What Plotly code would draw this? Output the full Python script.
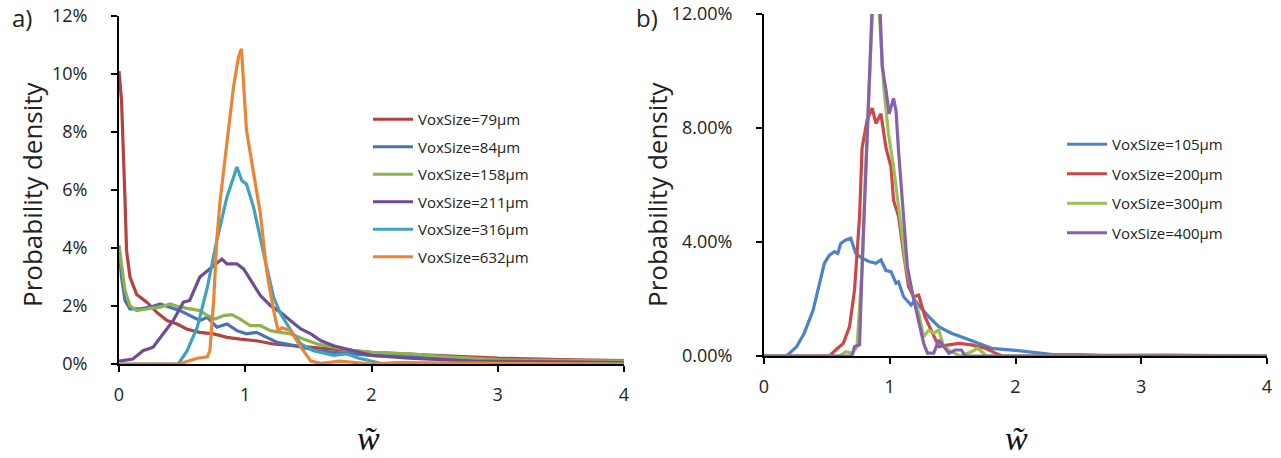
import plotly.graph_objects as go

# ---------------- Panel a data (w, probability density in %) ----------------
a_names = ["VoxSize=79µm", "VoxSize=84µm", "VoxSize=158µm",
           "VoxSize=211µm", "VoxSize=316µm", "VoxSize=632µm"]

a79_w = [0, 0.02, 0.048, 0.06, 0.087, 0.14, 0.22, 0.30, 0.38, 0.46, 0.54, 0.64, 0.75,
         0.855, 0.96, 1.09, 1.22, 1.38, 1.54, 1.7, 2.0, 2.5, 3.0, 3.5, 4.0]
a79_p = [10.1, 9.1, 5.6, 3.9, 3.0, 2.4, 2.13, 1.78, 1.5, 1.38, 1.2, 1.09, 1.04,
         0.92, 0.86, 0.8, 0.69, 0.63, 0.58, 0.52, 0.4, 0.3, 0.2, 0.15, 0.12]

a84_w = [0, 0.02, 0.048, 0.087, 0.167, 0.246, 0.325, 0.405, 0.484, 0.563, 0.64, 0.7,
         0.775, 0.855, 0.934, 1.01, 1.09, 1.17, 1.25, 1.33, 1.44, 1.57, 1.7, 1.86,
         2.0, 2.5, 3.0, 4.0]
a84_p = [4.0, 3.0, 2.19, 1.9, 1.9, 1.96, 2.07, 1.96, 1.84, 1.67, 1.5, 1.61,
         1.27, 1.38, 1.15, 1.04, 1.09, 0.92, 0.75, 0.69, 0.58, 0.46, 0.4, 0.35,
         0.3, 0.2, 0.12, 0.08]

a158_w = [0, 0.02, 0.048, 0.087, 0.14, 0.22, 0.325, 0.405, 0.484, 0.563, 0.64, 0.7,
          0.76, 0.83, 0.894, 0.96, 1.04, 1.12, 1.2, 1.28, 1.357, 1.46, 1.57, 1.7,
          1.86, 2.0, 2.3, 2.6, 3.0, 4.0]
a158_p = [4.1, 3.45, 2.53, 2.01, 1.84, 1.9, 1.96, 2.07, 1.96, 1.9, 1.84, 1.67,
          1.55, 1.67, 1.7, 1.55, 1.32, 1.32, 1.15, 1.09, 1.04, 0.86, 0.69, 0.58,
          0.46, 0.4, 0.35, 0.25, 0.15, 0.1]

a211_w = [0, 0.11, 0.19, 0.27, 0.35, 0.43, 0.51, 0.56, 0.64, 0.72, 0.815, 0.855,
          0.934, 0.987, 1.066, 1.12, 1.2, 1.28, 1.357, 1.44, 1.52, 1.6, 1.7, 1.83,
          2.0, 2.3, 2.8, 3.5, 4.0]
a211_p = [0.1, 0.17, 0.46, 0.58, 1.04, 1.5, 2.13, 2.19, 3.0, 3.28, 3.62, 3.45,
          3.45, 3.28, 2.76, 2.36, 2.01, 1.78, 1.5, 1.21, 1.04, 0.8, 0.63, 0.48,
          0.3, 0.2, 0.1, 0.07, 0.05]

a316_w = [0, 0.47, 0.54, 0.62, 0.70, 0.775, 0.855, 0.907, 0.934, 0.973, 1.01, 1.066,
          1.12, 1.17, 1.225, 1.28, 1.33, 1.38, 1.44, 1.54, 1.7, 1.8, 1.9, 2.0, 2.1, 4.0]
a316_p = [0, 0, 0.46, 1.27, 2.65, 4.26, 5.75, 6.44, 6.79, 6.33, 6.2, 5.4,
          4.26, 3.34, 2.3, 1.73, 1.38, 1.04, 0.69, 0.46, 0.3, 0.35, 0.2, 0.1, 0, 0]

a632_w = [0, 0.48, 0.55, 0.62, 0.70, 0.72, 0.75, 0.775, 0.80, 0.855, 0.907, 0.947,
          0.97, 1.01, 1.066, 1.12, 1.17, 1.225, 1.26, 1.29, 1.36, 1.44, 1.52, 1.6,
          1.75, 1.85, 2.0, 2.2, 4.0]
a632_p = [0, 0, 0.1, 0.2, 0.25, 0.46, 2.2, 4.3, 5.6, 7.7, 9.55, 10.6,
          10.87, 8.05, 6.56, 5.18, 3.2, 1.84, 1.15, 1.25, 1.15, 0.58, 0.1, 0.02,
          0.1, 0.05, 0, 0.05, 0]

a_colors = ["#B5423F", "#4672B8", "#8DB24F", "#6F4D95", "#3FA3BB", "#EB8535"]

# ---------------- Panel b data ----------------
b_names = ["VoxSize=105µm", "VoxSize=200µm", "VoxSize=300µm", "VoxSize=400µm"]

b105_w = [0, 0.18, 0.26, 0.32, 0.39, 0.44, 0.48, 0.52, 0.56, 0.587, 0.61, 0.65, 0.69,
          0.73, 0.78, 0.84, 0.89, 0.93, 0.97, 1.01, 1.05, 1.07, 1.11, 1.17, 1.2,
          1.24, 1.31, 1.39, 1.49, 1.6, 1.7, 1.81, 2.0, 2.1, 2.3, 2.5, 2.7, 3.2, 4.0]
b105_p = [0, 0, 0.33, 0.8, 1.6, 2.55, 3.25, 3.54, 3.66, 3.6, 3.95, 4.07, 4.13,
          3.6, 3.43, 3.31, 3.25, 3.37, 3.0, 2.96, 2.55, 2.6, 2.08, 1.79, 1.96,
          1.73, 1.38, 1.03, 0.8, 0.62, 0.44, 0.27, 0.2, 0.15, 0.05, 0.05, 0.02, 0.03, 0]

b200_w = [0, 0.52, 0.57, 0.63, 0.68, 0.72, 0.76, 0.78, 0.82, 0.86, 0.89, 0.93, 0.97,
          1.01, 1.03, 1.07, 1.11, 1.15, 1.19, 1.23, 1.28, 1.34, 1.39, 1.47, 1.55,
          1.65, 1.76, 1.84, 1.9, 4.0]
b200_p = [0, 0, 0.21, 0.44, 1.03, 2.32, 4.9, 7.3, 8.28, 8.7, 8.16, 8.5, 7.3,
          6.64, 5.47, 4.9, 3.6, 2.43, 2.08, 2.14, 1.38, 0.8, 0.33, 0.39, 0.44,
          0.39, 0.27, 0.1, 0, 0]

b300_w = [0, 0.6, 0.65, 0.7, 0.74, 0.78, 0.81, 0.84, 0.875, 0.91, 0.955, 0.99, 1.03,
          1.07, 1.13, 1.18, 1.23, 1.27, 1.31, 1.35, 1.39, 1.43, 1.49, 1.56, 1.65,
          1.7, 1.77, 4.0]
b300_p = [0, 0, 0.15, 0.1, 0.33, 3.1, 6.64, 10.1, 13.5, 12.5, 9.3, 7.8, 6.64,
          5.24, 3.13, 2.2, 1.5, 0.68, 0.91, 0.8, 0.91, 0.33, 0.15, 0, 0.15,
          0.27, 0, 0]

b400_w = [0, 0.7, 0.72, 0.76, 0.78, 0.82, 0.85, 0.88, 0.92, 0.94, 0.97, 0.995, 1.03,
          1.05, 1.07, 1.1, 1.14, 1.18, 1.23, 1.27, 1.3, 1.35, 1.39, 1.43, 1.47,
          1.52, 1.57, 1.6, 4.0]
b400_p = [0, 0, 0.33, 0.39, 3.1, 7.8, 11.3, 14.5, 12.5, 10.15, 9.33, 8.5, 9.04,
          8.6, 7.2, 5.47, 3.13, 2.2, 1.26, 0.44, 0.1, 0.1, 0.56, 0.33, 0.1,
          0.21, 0.21, 0, 0]

b_colors = ["#4A84C6", "#CE4744", "#9BC153", "#8662AE"]

a_ticks = [0, 2, 4, 6, 8, 10, 12]
a_ticktext = ["0%", "2%", "4%", "6%", "8%", "10%", "12%"]
b_ticks = [0, 4, 8, 12]
b_ticktext = ["0.00%", "4.00%", "8.00%", "12.00%"]
x_ticks = [0, 1, 2, 3, 4]
x_ticktext = ["0", "1", "2", "3", "4"]

FONT = "Open Sans"
W, H = 1281, 458


def px(x):
    return x / W


def py(y):
    return 1 - y / H


fig = go.Figure()

a_series = [(a79_w, a79_p), (a84_w, a84_p), (a158_w, a158_p),
            (a211_w, a211_p), (a316_w, a316_p), (a632_w, a632_p)]
for i, ((wx, pv), name, col) in enumerate(zip(a_series, a_names, a_colors)):
    fig.add_trace(go.Scatter(x=wx, y=pv, mode="lines", name=name,
                             line=dict(color=col, width=3.2),
                             xaxis="x", yaxis="y", legend="legend",
                             legendgroup="a%d" % i))

b_series = [(b105_w, b105_p), (b200_w, b200_p), (b300_w, b300_p), (b400_w, b400_p)]
for i, ((wx, pv), name, col) in enumerate(zip(b_series, b_names, b_colors)):
    fig.add_trace(go.Scatter(x=wx, y=pv, mode="lines", name=name,
                             line=dict(color=col, width=3.2),
                             xaxis="x2", yaxis="y2", legend="legend2",
                             legendgroup="b%d" % i))

axis_common = dict(showgrid=False, zeroline=False, showline=True, linecolor="black",
                   linewidth=2, ticks="outside", ticklen=6, tickwidth=2,
                   tickcolor="black", automargin=False, ticklabeloverflow="allow",
                   tickfont=dict(family=FONT, size=18, color="#222"))

fig.update_layout(
    width=W, height=H,
    margin=dict(l=0, r=0, t=0, b=0, autoexpand=False),
    paper_bgcolor="white", plot_bgcolor="white",
    xaxis=dict(**axis_common, domain=[px(119), px(624)], range=[0, 4], tickmode="array",
               tickvals=x_ticks, ticktext=x_ticktext, anchor="y", ticklabelstandoff=7),
    yaxis=dict(**axis_common, domain=[py(364), py(16)], range=[0, 12], tickmode="array",
               tickvals=a_ticks, ticktext=a_ticktext, anchor="x", ticklabelstandoff=20),
    xaxis2=dict(**axis_common, domain=[px(764), px(1267)], range=[0, 4], tickmode="array",
                tickvals=x_ticks, ticktext=x_ticktext, anchor="y2", ticklabelstandoff=7),
    yaxis2=dict(**axis_common, domain=[py(356), py(14)], range=[0, 12], tickmode="array",
                tickvals=b_ticks, ticktext=b_ticktext, anchor="x2", ticklabelstandoff=20),
    legend=dict(x=px(368), y=py(103), xanchor="left", yanchor="top",
                font=dict(family=FONT, size=15, color="#222"),
                bgcolor="rgba(0,0,0,0)", tracegroupgap=5, itemwidth=40),
    legend2=dict(x=px(1062), y=py(128), xanchor="left", yanchor="top",
                 font=dict(family=FONT, size=15, color="#222"),
                 bgcolor="rgba(0,0,0,0)", tracegroupgap=7, itemwidth=40),
    annotations=[
        dict(text="a)", x=px(22), y=py(17), xref="paper", yref="paper",
             xanchor="center", yanchor="middle", showarrow=False,
             font=dict(family=FONT, size=24, color="#222")),
        dict(text="b)", x=px(647), y=py(17), xref="paper", yref="paper",
             xanchor="center", yanchor="middle", showarrow=False,
             font=dict(family=FONT, size=24, color="#222")),
        dict(text="Probability density", x=px(32), y=py(194), xref="paper",
             yref="paper", textangle=-90, xanchor="center", yanchor="middle",
             showarrow=False, font=dict(family=FONT, size=26, color="#222")),
        dict(text="Probability density", x=px(657), y=py(194), xref="paper",
             yref="paper", textangle=-90, xanchor="center", yanchor="middle",
             showarrow=False, font=dict(family=FONT, size=26, color="#222")),
        dict(text="<i>w̃</i>", x=px(368), y=py(438), xref="paper", yref="paper",
             xanchor="center", yanchor="middle", showarrow=False,
             font=dict(family="Liberation Serif", size=34, color="#111")),
        dict(text="<i>w̃</i>", x=px(1016), y=py(438), xref="paper", yref="paper",
             xanchor="center", yanchor="middle", showarrow=False,
             font=dict(family="Liberation Serif", size=34, color="#111")),
    ],
)

fig.write_html("out.html", config={"displayModeBar": False},
               post_script="document.body.style.margin='0';"
                           "document.body.style.overflow='hidden';")
